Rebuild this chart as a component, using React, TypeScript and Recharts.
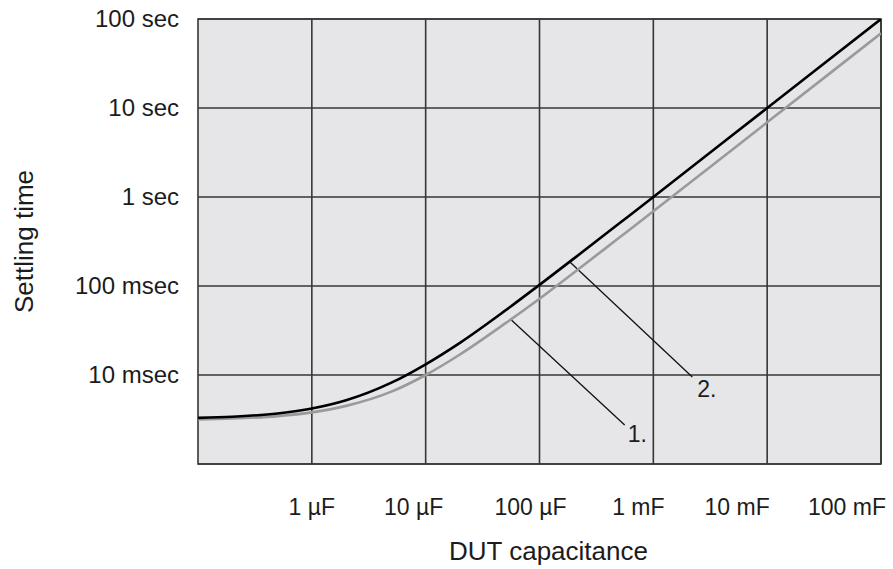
import React from "react";
import {
  LineChart,
  Line,
  XAxis,
  YAxis,
  CartesianGrid,
  ReferenceLine,
  ReferenceDot,
  ReferenceArea,
} from "recharts";

// capacitance in µF
const capacitance = [0.1, 0.2, 0.5, 1, 2, 5, 10, 20, 50, 100, 200, 500, 1000, 10000, 100000];
// settling time in msec, curve 2 (black)
const settlingCurve2 = [3.3, 3.4, 3.7, 4.2, 5.2, 8.2, 13.2, 23, 53, 103, 203, 503, 1000, 10000, 100000];
// settling time in msec, curve 1 (gray)
const settlingCurve1 = [3.17, 3.24, 3.45, 3.8, 4.5, 6.5, 10, 17, 38, 72, 141, 348, 690, 6900, 69000];

const xTicks = [1, 10, 100, 1000, 10000, 100000];
const xTickLabels = ["1 µF", "10 µF", "100 µF", "1 mF", "10 mF", "100 mF"];
const yTicks = [1, 10, 100, 1000, 10000, 100000];
const yTickLabels = ["", "10 msec", "100 msec", "1 sec", "10 sec", "100 sec"];

const callouts = [
  { label: "1.", from: { x: 56, y: 42 }, to: { x: 560, y: 2.75 }, dx: 3, dy: 17 },
  { label: "2.", from: { x: 186, y: 185 }, to: { x: 2200, y: 9.5 }, dx: 5, dy: 20 },
];

const font = "'Liberation Sans', Arial, Helvetica, sans-serif";
const textColor = "#1c1c1c";
const gridColor = "#363636";

// label positions in the original drift left of their grid lines
const xLabelNudge = [0, -12, -9, -15, -30, -34];

const data = capacitance.map((c, i) => ({
  c,
  curve2: settlingCurve2[i],
  curve1: settlingCurve1[i],
}));

const XTick = (props: any) => {
  const { x, y, payload } = props;
  const i = xTicks.indexOf(payload.value);
  return (
    <text
      x={x + (xLabelNudge[i] ?? 0)}
      y={y + 43}
      textAnchor="middle"
      fontSize={23}
      fontFamily={font}
      fill={textColor}
    >
      {xTickLabels[i]}
    </text>
  );
};

const YTick = (props: any) => {
  const { x, y, payload } = props;
  const i = yTicks.indexOf(payload.value);
  return (
    <text
      x={x - 17}
      y={y + 8}
      textAnchor="end"
      fontSize={24}
      fontFamily={font}
      fill={textColor}
    >
      {yTickLabels[i]}
    </text>
  );
};

export default function App() {
  return (
    <div style={{ position: "absolute", left: 0, top: 0, background: "#fff" }}>
      <LineChart
        width={893}
        height={569}
        data={data}
        margin={{ top: 19, right: 12, bottom: 0, left: 0 }}
      >
        <CartesianGrid
          fill="#e6e6e8"
          stroke={gridColor}
          strokeWidth={1.6}
          horizontalValues={yTicks}
          verticalValues={xTicks}
          strokeOpacity={1}
        />
        <ReferenceArea
          x1={0.1}
          x2={100000}
          y1={1}
          y2={100000}
          fill="none"
          stroke={gridColor}
          strokeWidth={1.6}
        />
        <XAxis
          dataKey="c"
          type="number"
          scale="log"
          domain={[0.1, 100000]}
          ticks={xTicks}
          allowDataOverflow
          axisLine={false}
          tickLine={false}
          height={105}
          tick={<XTick />}
          interval={0}
          label={{
            value: "DUT capacitance",
            position: "insideBottom",
            dx: 9,
            offset: 9,
            style: { fontSize: 26, fontFamily: font, fill: textColor },
          }}
        />
        <YAxis
          type="number"
          scale="log"
          domain={[1, 100000]}
          ticks={yTicks}
          allowDataOverflow
          axisLine={false}
          tickLine={false}
          width={198}
          tickSize={0}
          tick={<YTick />}
          interval={0}
          label={{
            value: "Settling time",
            angle: -90,
            position: "insideLeft",
            offset: 24,
            style: { fontSize: 26, fontFamily: font, fill: textColor, textAnchor: "middle" },
          }}
        />
        {callouts.map((c) => (
          <ReferenceLine
            key={"l" + c.label}
            segment={[c.from, c.to]}
            stroke="#111"
            strokeWidth={1.3}
          />
        ))}
        {callouts.map((c) => (
          <ReferenceDot
            key={"d" + c.label}
            x={c.to.x}
            y={c.to.y}
            r={0}
            shape={(p: any) => (
              <text
                x={p.cx + c.dx}
                y={p.cy + c.dy}
                fontSize={23}
                fontFamily={font}
                fill={textColor}
              >
                {c.label}
              </text>
            )}
          />
        ))}
        <Line
          type="monotone"
          dataKey="curve1"
          stroke="#9a9a9a"
          strokeWidth={2.6}
          dot={false}
          isAnimationActive={false}
        />
        <Line
          type="monotone"
          dataKey="curve2"
          stroke="#000"
          strokeWidth={2.6}
          dot={false}
          isAnimationActive={false}
        />
      </LineChart>
    </div>
  );
}
